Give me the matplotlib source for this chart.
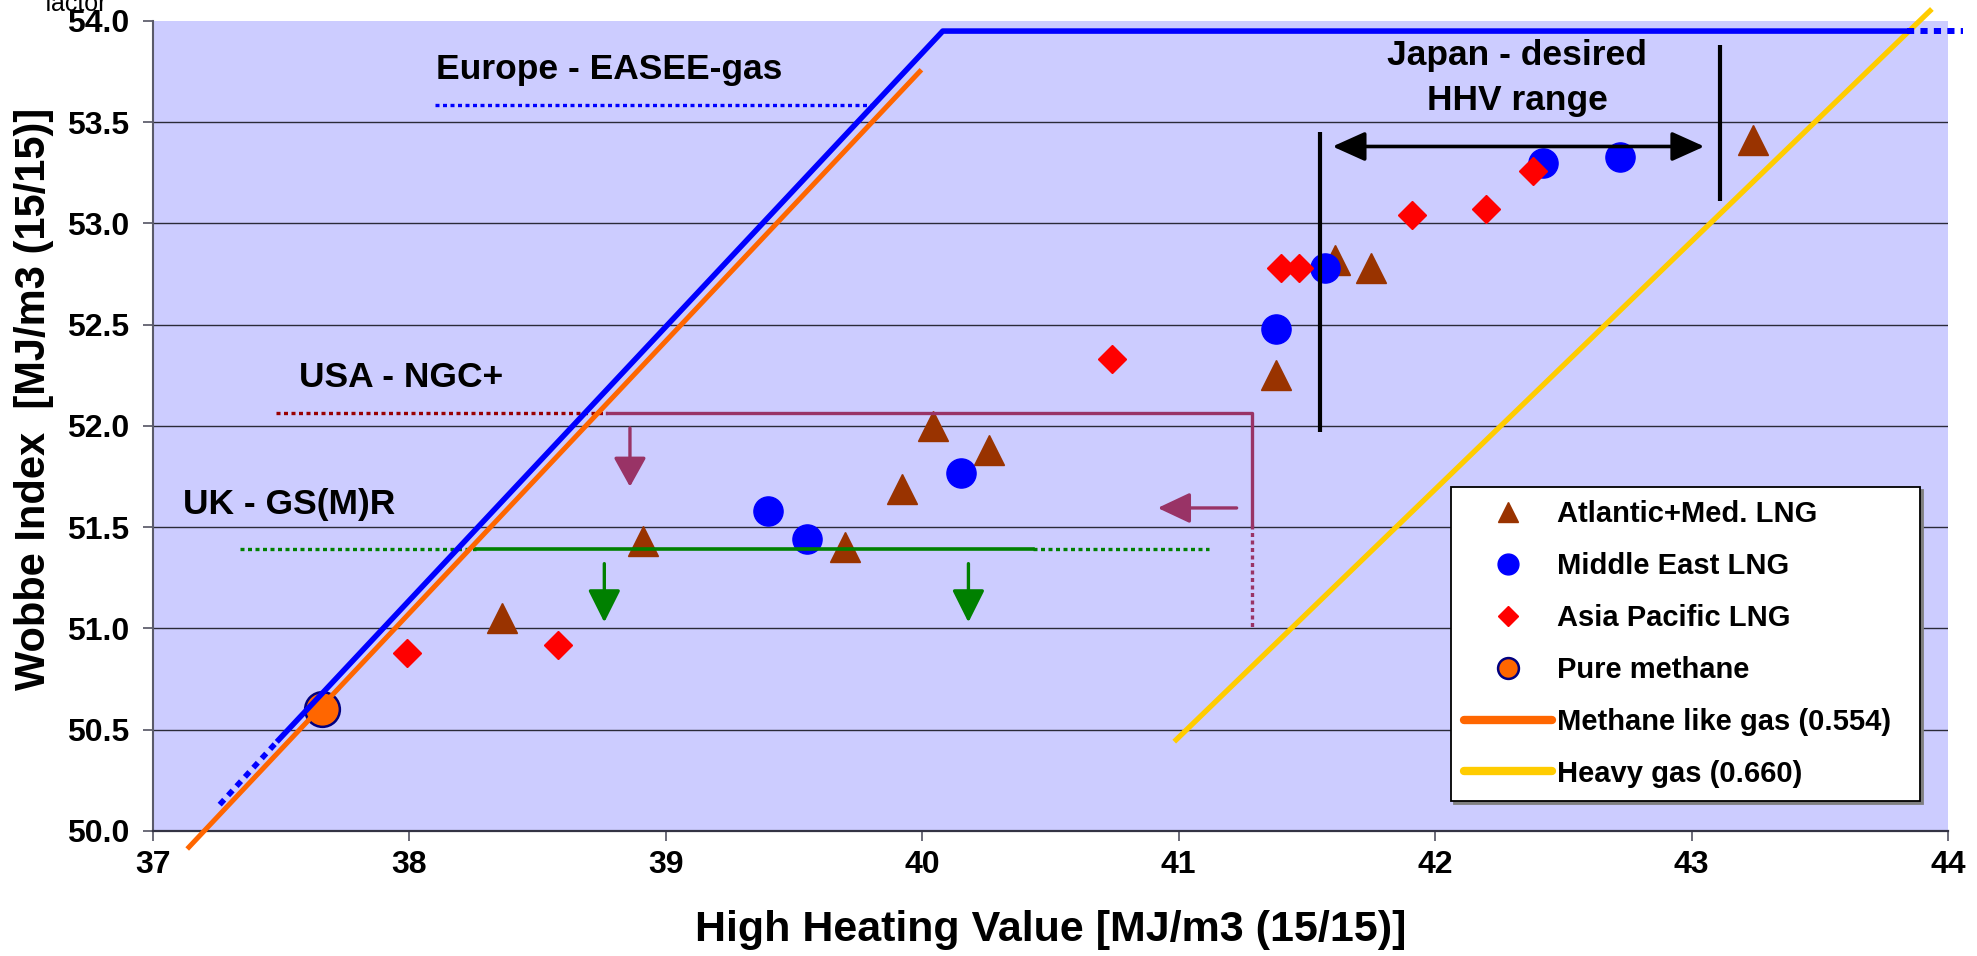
import matplotlib
matplotlib.use('Agg')
import matplotlib.pyplot as plt
from matplotlib.lines import Line2D

plt.rcParams['font.family'] = ['Liberation Sans', 'DejaVu Sans']
plt.rcParams['font.weight'] = 'bold'

# LNG sources: High Heating Value vs Wobbe Index
atlantic_hhv = [38.36, 38.91, 39.70, 39.92, 40.04, 40.26, 41.38, 41.61, 41.75, 43.24]
atlantic_wi = [51.05, 51.43, 51.40, 51.69, 52.00, 51.88, 52.25, 52.82, 52.78, 53.41]

mideast_hhv = [39.40, 39.55, 40.15, 41.38, 41.57, 42.42, 42.72]
mideast_wi = [51.58, 51.44, 51.77, 52.48, 52.78, 53.30, 53.33]

asiapac_hhv = [37.99, 38.58, 40.74, 41.40, 41.47, 41.91, 42.20, 42.38]
asiapac_wi = [50.88, 50.92, 52.33, 52.78, 52.78, 53.04, 53.07, 53.26]

methane_hhv = [37.66]
methane_wi = [50.60]

# constant relative density lines
methane_like_hhv = [37.14, 39.99]
methane_like_wi = [49.92, 53.75]
heavy_hhv = [40.99, 43.93]
heavy_wi = [50.45, 54.05]

# Europe - EASEE-gas limits
eu_hhv = [37.49, 40.08, 43.84]
eu_wi = [50.45, 53.95, 53.95]
eu_low_dot_hhv = [37.26, 37.49]
eu_low_dot_wi = [50.13, 50.45]
eu_right_dot_hhv = [43.84, 44.06]
eu_right_dot_wi = [53.95, 53.95]
eu_label_dot_hhv = [38.10, 39.81]
eu_label_dot_wi = [53.585, 53.585]

# USA - NGC+
usa_dot_hhv = [37.48, 38.77]
usa_dot_wi = [52.064, 52.064]
usa_hhv = [38.77, 41.285, 41.285]
usa_wi = [52.064, 52.064, 51.51]
usa_vdot_hhv = [41.285, 41.285]
usa_vdot_wi = [51.51, 50.99]

# UK - GS(M)R
uk_dot1_hhv = [37.34, 38.26]
uk_hhv = [38.26, 40.43]
uk_dot2_hhv = [40.43, 41.12]
uk_wi = 51.393

# Japan - desired HHV range
japan_bars_hhv = [41.55, 43.11]
japan_bars_lo = [51.97, 53.11]
japan_bars_hi = [53.45, 53.88]
japan_arrow_hhv = [41.60, 43.05]
japan_arrow_wi = 53.38

BROWN = '#993300'
MAUVE = '#993366'
GREEN = '#008000'
DOTS = (0, (1.2, 1.05))

fig = plt.figure(figsize=(19.77, 9.56), dpi=100)
ax = fig.add_axes([0.0774, 0.1308, 0.9079, 0.8473])
ax.set_facecolor('#CCCCFF')
ax.set_xlim(37, 44)
ax.set_ylim(50, 54)

ax.plot(atlantic_hhv, atlantic_wi, ls='none', marker='^', ms=21, color=BROWN, zorder=3)
ax.plot(mideast_hhv, mideast_wi, ls='none', marker='o', ms=21, color='#0000FF', zorder=3.1)
ax.plot(asiapac_hhv, asiapac_wi, ls='none', marker='D', ms=14.5, color='#FF0000', zorder=3.2)
ax.plot(methane_hhv, methane_wi, ls='none', marker='o', ms=25, mfc='#FF6600',
        mec='#000080', mew=1.8, zorder=2.5)

ax.plot(methane_like_hhv, methane_like_wi, color='#FF6600', lw=3.6, zorder=4, clip_on=False)
ax.plot(heavy_hhv, heavy_wi, color='#FFCC00', lw=3.8, zorder=4, clip_on=False)
ax.plot(eu_hhv, eu_wi, color='#0000FF', lw=4, zorder=4.2)
ax.plot(eu_low_dot_hhv, eu_low_dot_wi, color='#0000FF', lw=4, ls=DOTS, zorder=4.2)
ax.plot(eu_right_dot_hhv, eu_right_dot_wi, color='#0000FF', lw=4.3, ls=DOTS, zorder=4.2,
        clip_on=False)
ax.plot(eu_label_dot_hhv, eu_label_dot_wi, color='#0000FF', lw=2.4, ls=DOTS, zorder=4)

ax.plot(usa_dot_hhv, usa_dot_wi, color='#990000', lw=2.4, ls=DOTS, zorder=3.5)
ax.plot(usa_hhv, usa_wi, color=MAUVE, lw=2.4, zorder=3.5)
ax.plot(usa_vdot_hhv, usa_vdot_wi, color=MAUVE, lw=2.4, ls=DOTS, zorder=3.5)

ax.plot(uk_dot1_hhv, [uk_wi] * 2, color=GREEN, lw=2.4, ls=DOTS, zorder=3.5)
ax.plot(uk_hhv, [uk_wi] * 2, color=GREEN, lw=2.6, zorder=3.5)
ax.plot(uk_dot2_hhv, [uk_wi] * 2, color=GREEN, lw=2.4, ls=DOTS, zorder=3.5)

ax.vlines(japan_bars_hhv, japan_bars_lo, japan_bars_hi, color='black', lw=3, zorder=3.5)

arrow_kw = dict(shrinkA=0, shrinkB=0, mutation_scale=20)
ax.annotate('', xy=(japan_arrow_hhv[1], japan_arrow_wi), xytext=(japan_arrow_hhv[0], japan_arrow_wi),
            arrowprops=dict(arrowstyle='<|-|>,head_length=1.0,head_width=0.45', color='black',
                            lw=2.6, **arrow_kw), zorder=3.5)
# limit direction arrows
ax.annotate('', xy=(38.86, 51.70), xytext=(38.86, 51.99),
            arrowprops=dict(arrowstyle='-|>,head_length=0.9,head_width=0.5', color=MAUVE,
                            lw=2.4, **arrow_kw))
ax.annotate('', xy=(40.918, 51.595), xytext=(41.226, 51.595),
            arrowprops=dict(arrowstyle='-|>,head_length=1.0,head_width=0.47', color=MAUVE,
                            lw=2.4, **arrow_kw))
for xa in [38.76, 40.18]:
    ax.annotate('', xy=(xa, 51.03), xytext=(xa, 51.32),
                arrowprops=dict(arrowstyle='-|>,head_length=1.0,head_width=0.5', color=GREEN,
                                lw=2.4, **arrow_kw))

txt = dict(fontsize=25.5, fontweight='bold', color='black', va='baseline', zorder=6)
ax.text(38.78, 53.714, 'Europe - EASEE-gas', ha='center', **txt)
ax.text(42.32, 53.78, 'Japan - desired', ha='center', **txt)
ax.text(42.32, 53.56, 'HHV range', ha='center', **txt)
ax.text(37.57, 52.19, 'USA - NGC+', ha='left', **txt)
ax.text(37.117, 51.565, 'UK - GS(M)R', ha='left', **txt)

# axes styling
for s in ['top', 'right']:
    ax.spines[s].set_visible(False)
ax.spines['left'].set_color('#5a5a6a')
ax.spines['bottom'].set_color('#333344')
ax.spines['left'].set_linewidth(1.5)
ax.spines['bottom'].set_linewidth(1.6)
ax.set_xticks(range(37, 45))
ax.set_yticks([50.0, 50.5, 51.0, 51.5, 52.0, 52.5, 53.0, 53.5, 54.0])
ax.set_yticklabels(['%.1f' % v for v in ax.get_yticks()])
ax.tick_params(axis='both', direction='out', length=7, width=1.1, color='#444455',
               labelsize=23)
ax.tick_params(axis='y', pad=10)
ax.tick_params(axis='x', pad=7)
for lab in ax.get_xticklabels() + ax.get_yticklabels():
    lab.set_fontweight('bold')
ax.grid(axis='y', color='#2a2a38', lw=1.0, zorder=1)
ax.set_axisbelow(True)
ax.get_ygridlines()[-1].set_visible(False)

ax.set_xlabel('High Heating Value [MJ/m3 (15/15)]', fontsize=31, fontweight='bold')
ax.xaxis.set_label_coords(0.5, -0.098)
ax.set_ylabel('Wobbe Index  [MJ/m3 (15/15)]', fontsize=30, fontweight='bold')
ax.yaxis.set_label_coords(-0.055, 0.533)

handles = [
    Line2D([], [], ls='none', marker='^', ms=15, color=BROWN),
    Line2D([], [], ls='none', marker='o', ms=15, color='#0000FF'),
    Line2D([], [], ls='none', marker='D', ms=10.5, color='#FF0000'),
    Line2D([], [], ls='none', marker='o', ms=15, mfc='#FF6600', mec='#000080', mew=1.8),
    Line2D([], [], color='#FF6600', lw=6, solid_capstyle='round'),
    Line2D([], [], color='#FFCC00', lw=6, solid_capstyle='round'),
]
labels = ['Atlantic+Med. LNG', 'Middle East LNG', 'Asia Pacific LNG', 'Pure methane',
          'Methane like gas (0.554)', 'Heavy gas (0.660)']
leg = ax.legend(handles, labels, loc='upper left', bbox_to_anchor=(0.7231, -0.005, 0.2613, 0.4297),
                mode='expand', borderaxespad=0, prop={'size': 21, 'weight': 'bold'},
                frameon=True, fancybox=False, shadow={'color': '0.5', 'alpha': 1},
                framealpha=1, edgecolor='black', borderpad=0.45, labelspacing=0.82,
                handlelength=3.0, handletextpad=0.2)
leg.get_frame().set_linewidth(1.3)
leg.set_zorder(7)

fig.text(0.0228, 0.9885, 'factor', fontsize=18, fontweight='normal', va='baseline')

fig.savefig('out.png', dpi=100)
